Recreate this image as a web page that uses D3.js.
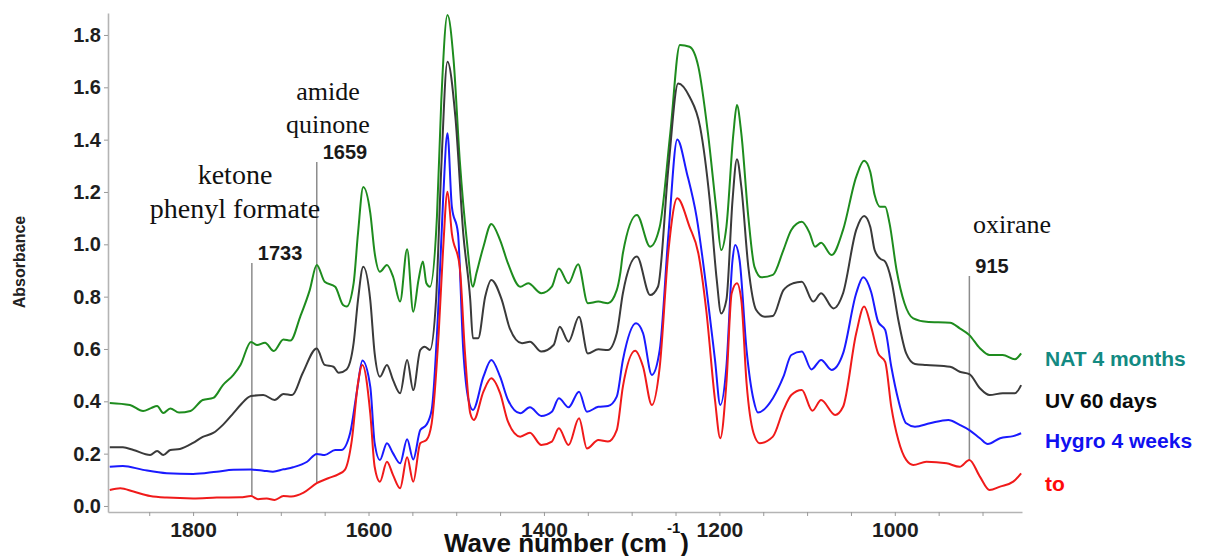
<!DOCTYPE html>
<html><head><meta charset="utf-8">
<script src="https://cdn.jsdelivr.net/npm/d3@7/dist/d3.min.js"></script>
<style>body{margin:0;background:#fff}svg{display:block}</style>
</head><body><svg id="c" width="1220" height="556"></svg>
<script>
// ---------- data ----------
const xDomain = [1897, 855];
const yDomain = [-0.023, 1.884];
const yTickValues = [0, 0.2, 0.4, 0.6, 0.8, 1.0, 1.2, 1.4, 1.6, 1.8];
const xTickValues = [1850, 1800, 1750, 1700, 1650, 1600, 1550, 1500, 1450, 1400, 1350, 1300, 1250, 1200, 1150, 1100, 1050, 1000, 950, 900];
const xTickLabels = [1800, 1600, 1400, 1200, 1000];
const seriesNames = ["NAT 4 months", "UV 60 days", "Hygro 4 weeks", "to"];

const natSeries = [[1895,0.394],[1872,0.386],[1857,0.363],[1848,0.374],[1841,0.382],[1834,0.355],[1826,0.373],[1816,0.357],[1803,0.363],[1789,0.405],[1777,0.413],[1766,0.462],[1754,0.501],[1746,0.539],[1734,0.627],[1727,0.615],[1718,0.624],[1708,0.592],[1697,0.636],[1689,0.632],[1678,0.722],[1667,0.825],[1659,0.921],[1650,0.857],[1638,0.838],[1629,0.768],[1625,0.762],[1617,0.851],[1612,1.042],[1606,1.219],[1598,1.120],[1593,0.967],[1587,0.895],[1579,0.921],[1572,0.876],[1564,0.781],[1556,0.981],[1549,0.742],[1543,0.864],[1538,0.934],[1534,0.851],[1530,0.838],[1522,1.105],[1517,1.551],[1510,1.876],[1503,1.704],[1496,1.322],[1488,1.016],[1481,0.838],[1477,0.889],[1469,0.991],[1460,1.078],[1450,1.016],[1441,0.927],[1427,0.838],[1418,0.851],[1403,0.813],[1391,0.838],[1383,0.908],[1372,0.851],[1361,0.924],[1350,0.775],[1338,0.781],[1327,0.775],[1317,0.825],[1313,0.889],[1310,0.966],[1294,1.112],[1279,0.991],[1268,1.067],[1256,1.424],[1245,1.762],[1234,1.755],[1224,1.679],[1213,1.424],[1203,1.118],[1198,0.978],[1192,1.067],[1184,1.424],[1180,1.532],[1175,1.424],[1167,1.105],[1160,0.914],[1152,0.874],[1139,0.883],[1127,0.978],[1118,1.055],[1106,1.086],[1097,1.042],[1091,0.991],[1084,1.006],[1072,0.959],[1059,1.055],[1044,1.258],[1035,1.319],[1028,1.277],[1023,1.188],[1017,1.144],[1011,1.144],[1006,1.080],[998,0.902],[989,0.775],[979,0.717],[964,0.704],[937,0.700],[926,0.679],[915,0.653],[903,0.603],[892,0.577],[877,0.577],[863,0.561],[856,0.583]];

const uvSeries = [[1895,0.224],[1880,0.224],[1868,0.214],[1849,0.195],[1841,0.210],[1834,0.195],[1826,0.214],[1815,0.218],[1800,0.241],[1789,0.264],[1777,0.279],[1766,0.310],[1754,0.355],[1746,0.386],[1734,0.420],[1720,0.424],[1707,0.405],[1697,0.428],[1687,0.424],[1675,0.508],[1659,0.602],[1650,0.539],[1640,0.532],[1634,0.509],[1625,0.522],[1617,0.622],[1612,0.787],[1606,0.914],[1598,0.787],[1593,0.583],[1587,0.494],[1579,0.539],[1572,0.481],[1564,0.431],[1556,0.558],[1549,0.443],[1541,0.596],[1536,0.609],[1530,0.596],[1523,0.787],[1517,1.297],[1510,1.698],[1501,1.488],[1492,1.042],[1484,0.787],[1481,0.641],[1475,0.641],[1467,0.800],[1460,0.864],[1448,0.787],[1439,0.679],[1425,0.622],[1416,0.628],[1403,0.590],[1389,0.615],[1382,0.685],[1372,0.628],[1360,0.723],[1350,0.583],[1338,0.599],[1327,0.596],[1317,0.660],[1310,0.813],[1294,0.953],[1279,0.806],[1270,0.838],[1258,1.297],[1247,1.615],[1234,1.564],[1222,1.449],[1211,1.169],[1203,0.864],[1198,0.736],[1192,0.787],[1185,1.169],[1180,1.325],[1175,1.220],[1167,0.914],[1158,0.749],[1148,0.723],[1139,0.726],[1127,0.825],[1116,0.851],[1106,0.857],[1093,0.781],[1084,0.813],[1070,0.755],[1059,0.813],[1044,1.055],[1035,1.108],[1028,1.067],[1023,0.978],[1017,0.946],[1011,0.934],[1004,0.864],[996,0.711],[987,0.583],[977,0.543],[964,0.539],[937,0.532],[926,0.513],[915,0.504],[903,0.450],[892,0.424],[877,0.431],[863,0.431],[856,0.462]];

const hygroSeries = [[1895,0.150],[1880,0.153],[1857,0.138],[1830,0.125],[1800,0.122],[1773,0.131],[1754,0.138],[1734,0.139],[1720,0.135],[1709,0.131],[1697,0.140],[1686,0.148],[1670,0.169],[1659,0.199],[1650,0.195],[1638,0.214],[1631,0.214],[1621,0.278],[1613,0.443],[1607,0.556],[1598,0.456],[1593,0.240],[1587,0.176],[1579,0.240],[1572,0.201],[1564,0.163],[1556,0.255],[1549,0.178],[1541,0.290],[1534,0.310],[1528,0.367],[1520,0.787],[1515,1.169],[1510,1.424],[1505,1.144],[1498,1.042],[1492,0.596],[1486,0.405],[1481,0.367],[1469,0.494],[1460,0.558],[1450,0.494],[1441,0.405],[1427,0.354],[1416,0.377],[1403,0.344],[1391,0.360],[1383,0.412],[1372,0.377],[1360,0.437],[1351,0.360],[1338,0.379],[1327,0.382],[1317,0.418],[1310,0.558],[1295,0.698],[1287,0.660],[1277,0.501],[1268,0.596],[1258,1.042],[1248,1.401],[1237,1.271],[1226,1.105],[1215,0.838],[1205,0.558],[1199,0.386],[1192,0.532],[1185,0.940],[1182,0.997],[1177,0.940],[1169,0.596],[1161,0.405],[1156,0.357],[1139,0.412],[1127,0.494],[1118,0.577],[1106,0.590],[1095,0.522],[1084,0.558],[1072,0.520],[1059,0.583],[1044,0.813],[1036,0.874],[1027,0.818],[1019,0.704],[1011,0.673],[1004,0.532],[996,0.405],[987,0.316],[977,0.303],[960,0.316],[939,0.329],[926,0.310],[915,0.290],[903,0.259],[894,0.237],[880,0.259],[865,0.267],[856,0.278]];

const toSeries = [[1895,0.061],[1883,0.068],[1868,0.055],[1849,0.038],[1830,0.032],[1800,0.029],[1773,0.032],[1746,0.033],[1734,0.038],[1726,0.026],[1716,0.029],[1707,0.023],[1697,0.038],[1688,0.036],[1674,0.051],[1659,0.087],[1646,0.106],[1634,0.122],[1627,0.138],[1619,0.252],[1612,0.469],[1607,0.539],[1598,0.354],[1593,0.150],[1587,0.093],[1579,0.169],[1572,0.118],[1564,0.068],[1556,0.186],[1549,0.093],[1541,0.240],[1534,0.252],[1528,0.316],[1520,0.660],[1515,0.978],[1510,1.201],[1505,1.042],[1496,0.914],[1490,0.583],[1484,0.354],[1480,0.329],[1469,0.437],[1460,0.488],[1450,0.431],[1441,0.322],[1427,0.265],[1416,0.280],[1403,0.233],[1391,0.246],[1383,0.297],[1372,0.233],[1360,0.335],[1351,0.220],[1338,0.252],[1327,0.246],[1317,0.290],[1310,0.456],[1296,0.593],[1287,0.532],[1277,0.386],[1268,0.532],[1258,0.978],[1248,1.176],[1234,1.067],[1224,0.966],[1215,0.749],[1205,0.405],[1199,0.259],[1192,0.469],[1186,0.813],[1180,0.851],[1175,0.787],[1169,0.469],[1161,0.278],[1154,0.240],[1139,0.265],[1127,0.367],[1118,0.424],[1106,0.443],[1094,0.364],[1084,0.405],[1068,0.348],[1059,0.379],[1044,0.660],[1035,0.762],[1027,0.685],[1019,0.583],[1011,0.551],[1004,0.379],[996,0.252],[987,0.176],[979,0.157],[964,0.169],[941,0.163],[926,0.150],[915,0.176],[903,0.112],[892,0.061],[880,0.074],[865,0.093],[856,0.125]];

const markerWavenumbers = [1733, 1659, 915];
const markerTexts = ["1733", "1659", "915"];
const groupTexts = [["ketone", "phenyl formate"], ["amide", "quinone"], ["oxirane"]];

// ---------- layout / style ----------
const seriesData = [natSeries, uvSeries, hygroSeries, toSeries];
const lineColors = ["#1e8c1e", "#3a3a3a", "#1a1aff", "#f01a1a"];
const legendColors = ["#138a82", "#0a0a0a", "#1010f0", "#ff0a0a"];

const svg = d3.select("#c");
const x = d3.scaleLinear().domain(xDomain).range([108, 1022]);
const y = d3.scaleLinear().domain(yDomain).range([512, 13]);
const sans = "'Liberation Sans', Arial, sans-serif";
const serif = "'Liberation Serif', 'Times New Roman', serif";

// axes
const yAxis = svg.append("g").attr("transform", "translate(108,0)")
  .call(d3.axisLeft(y).tickValues(yTickValues).tickSize(4).tickSizeOuter(0).tickPadding(3).tickFormat(d3.format(".1f")));
const xAxis = svg.append("g").attr("transform", "translate(0,512)")
  .call(d3.axisBottom(x).tickValues(xTickValues).tickSize(4).tickSizeOuter(0).tickPadding(6)
    .tickFormat(d => xTickLabels.includes(d) ? String(d) : ""));
[yAxis, xAxis].forEach(g => {
  g.select(".domain").attr("stroke", "#b4b4b4").attr("stroke-width", 1.6);
  g.selectAll(".tick line").attr("stroke", "#9a9a9a").attr("stroke-width", 1);
  g.selectAll(".tick text").attr("fill", "#1e1e1e").style("font-family", sans).style("font-weight", "bold");
});
yAxis.selectAll(".tick text").style("font-size", "20px");
xAxis.selectAll(".tick text").style("font-size", "21px");

// axis titles
svg.append("text").attr("transform", "translate(25,262) rotate(-90)").attr("text-anchor", "middle")
  .style("font-family", sans).style("font-weight", "bold").style("font-size", "16px").attr("fill", "#222")
  .text("Absorbance");
const xt = svg.append("text").attr("x", 444).attr("y", 552)
  .style("font-family", sans).style("font-weight", "bold").style("font-size", "26px").attr("fill", "#111");
xt.append("tspan").text("Wave number (cm");
xt.append("tspan").attr("dy", -19).style("font-size", "15px").text("-1");
xt.append("tspan").attr("dy", 19).text(")");

// marker lines (from label down to the "to" spectrum)
function interp(series, wn) {
  for (let i = 0; i < series.length - 1; i++) {
    const a = series[i], b = series[i + 1];
    if (wn <= a[0] && wn >= b[0]) return a[1] + (b[1] - a[1]) * (a[0] - wn) / (a[0] - b[0]);
  }
  return 0;
}
const markerTops = [0.929, 1.315, 0.879];
markerWavenumbers.forEach((wn, i) => {
  svg.append("line").attr("x1", x(wn)).attr("x2", x(wn))
    .attr("y1", y(markerTops[i])).attr("y2", y(interp(toSeries, wn)))
    .attr("stroke", "#8c8c8c").attr("stroke-width", 1.5);
  svg.append("text").attr("x", x(wn) + 6).attr("y", y(markerTops[i]) - 3)
    .style("font-family", sans).style("font-weight", "bold").style("font-size", "20px").attr("fill", "#1a1a1a")
    .text(markerTexts[i]);
});

// group annotations (serif)
const groupPos = [[235, [184, 218], 28], [328, [100, 133], 26], [1012, [233], 26]];
groupTexts.forEach((lines, i) => {
  lines.forEach((t, j) => {
    svg.append("text").attr("x", groupPos[i][0]).attr("y", groupPos[i][1][j]).attr("text-anchor", "middle")
      .style("font-family", serif).style("font-size", groupPos[i][2] + "px").attr("fill", "#111").text(t);
  });
});

// spectra
const line = d3.line().x(d => x(d[0])).y(d => y(d[1])).curve(d3.curveMonotoneX);
seriesData.forEach((s, i) => {
  svg.append("path").datum(s).attr("d", line).attr("fill", "none")
    .attr("stroke", lineColors[i]).attr("stroke-width", 2).attr("stroke-linejoin", "round");
});

// legend
const legendY = [366, 408, 448, 491];
seriesNames.forEach((n, i) => {
  svg.append("text").attr("x", 1045).attr("y", legendY[i])
    .style("font-family", sans).style("font-weight", "bold").style("font-size", "21px")
    .attr("fill", legendColors[i]).text(n);
});
</script></body></html>
